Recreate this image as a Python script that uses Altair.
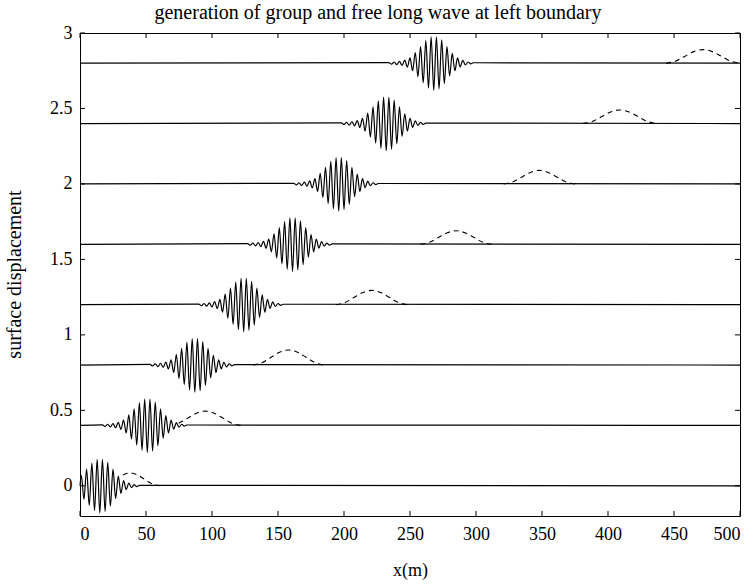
import altair as alt
import pandas as pd

# ---- values ----
offsets = [0.0, 0.4, 0.8, 1.2, 1.6, 2.0, 2.4, 2.8]
group_center = [17, 53, 89, 126, 163, 198, 234, 270]
# wave-group extrema relative to group centre (m) and their elevations
group_dx = [-36, -34, -32, -30, -28, -26, -24, -22, -20, -18, -16, -14, -12, -10, -8, -6, -4,
            -2, 0, 2, 4, 6, 8, 10, 12, 14, 16, 18, 20, 22, 24, 26, 28]
group_eta = [0.004, -0.006, 0.008, -0.01, 0.012, -0.015, 0.02, -0.026, 0.035, -0.05, 0.07,
             -0.09, 0.11, -0.13, 0.15, -0.165, 0.175, -0.18, 0.175, -0.17, 0.155, -0.135,
             0.11, -0.085, 0.065, -0.05, 0.035, -0.025, 0.018, -0.012, 0.008, -0.005, 0.003]
# free long wave (dashed)
long_center = [38, 95, 158, 221, 285, 348, 409, 472]
long_halfwidth = [22, 27, 27, 27, 27, 27, 28, 28]
long_height = [0.085, 0.095, 0.1, 0.095, 0.09, 0.09, 0.09, 0.09]
long_start = [29, 70, 0, 0, 0, 0, 0, 0]
long_pos = [-1.0, -0.75, -0.5, -0.25, 0.0, 0.25, 0.5, 0.75, 1.0]
long_shape = [0.0, 0.15, 0.5, 0.85, 1.0, 0.85, 0.5, 0.15, 0.0]

x_ticks = [0, 50, 100, 150, 200, 250, 300, 350, 400, 450, 500]
y_ticks = [0, 0.5, 1, 1.5, 2, 2.5, 3]

title_text = "generation of group and free long wave at left boundary"
x_title = "x(m)"
y_title = "surface displacement"

# ---- build tables ----
solid_rows = []
dash_rows = []
for i, base in enumerate(offsets):
    pts = [(0.0, base), (500.0, base)]
    for dx, eta in zip(group_dx, group_eta):
        x = group_center[i] + dx
        if 0 < x < 500:
            pts.append((x, base + eta))
    for x, y in pts:
        solid_rows.append({"x": x, "y": y, "s": i})
    for p, f in zip(long_pos, long_shape):
        x = long_center[i] + p * long_halfwidth[i]
        if long_start[i] <= x <= 500:
            dash_rows.append({"x": x, "y": base + f * long_height[i], "s": i})

solid_df = pd.DataFrame(solid_rows)
dash_df = pd.DataFrame(dash_rows)
xt_df = pd.DataFrame({"t": x_ticks})
yt_df = pd.DataFrame({"t": y_ticks})

W, H = 660, 483
FONT = "Liberation Serif"

xscale = alt.Scale(domain=[0, 500], nice=False, zero=False)
yscale = alt.Scale(domain=[-0.2, 3], nice=False, zero=False)

xaxis = alt.Axis(values=x_ticks, title=x_title, labelFontSize=18, titleFontSize=18,
                 labelFont=FONT, titleFont=FONT, labelColor="black", titleColor="black",
                 domain=False, ticks=False, grid=False,
                 labelPadding=9, titleY=54, titleBaseline="middle", titleFontWeight="normal")
yaxis = alt.Axis(values=y_ticks, title=y_title, labelFontSize=18, titleFontSize=20,
                 labelFont=FONT, titleFont=FONT, labelColor="black", titleColor="black",
                 domain=False, ticks=False, grid=False,
                 labelPadding=8, labelExpr="datum.value", titleX=-66, titleY=241,
                 titleBaseline="middle", titleFontWeight="normal")

solid = alt.Chart(solid_df).mark_line(color="black", strokeWidth=1.2, interpolate="monotone").encode(
    x=alt.X("x:Q", scale=xscale, axis=xaxis),
    y=alt.Y("y:Q", scale=yscale, axis=yaxis),
    detail="s:N",
)
dashed = alt.Chart(dash_df).mark_line(color="black", strokeWidth=1.1, strokeDash=[5, 4],
                                      interpolate="monotone").encode(
    x=alt.X("x:Q", scale=xscale), y=alt.Y("y:Q", scale=yscale), detail="s:N"
)

tb = alt.Chart(xt_df).mark_rule(color="black", strokeWidth=1).encode(
    x=alt.X("t:Q", scale=xscale), y=alt.value(H), y2=alt.value(H - 5))
tt = alt.Chart(xt_df).mark_rule(color="black", strokeWidth=1).encode(
    x=alt.X("t:Q", scale=xscale), y=alt.value(0), y2=alt.value(5))
tl = alt.Chart(yt_df).mark_rule(color="black", strokeWidth=1).encode(
    y=alt.Y("t:Q", scale=yscale), x=alt.value(0), x2=alt.value(5))
tr = alt.Chart(yt_df).mark_rule(color="black", strokeWidth=1).encode(
    y=alt.Y("t:Q", scale=yscale), x=alt.value(W - 5), x2=alt.value(W))

chart = alt.layer(solid, dashed, tb, tt, tl, tr).properties(
    width=W, height=H,
    title=alt.TitleParams(title_text, font=FONT, fontSize=20, fontWeight="normal",
                          anchor="middle", offset=1, dx=-32, color="black"),
    autosize=alt.AutoSizeParams(type="none"),
    padding={"left": 80, "top": 33, "right": 14, "bottom": 68},
).configure(background="white").configure_view(stroke="black", strokeWidth=1)

chart.save("out.html", embed_options={"renderer": "svg", "actions": False})
